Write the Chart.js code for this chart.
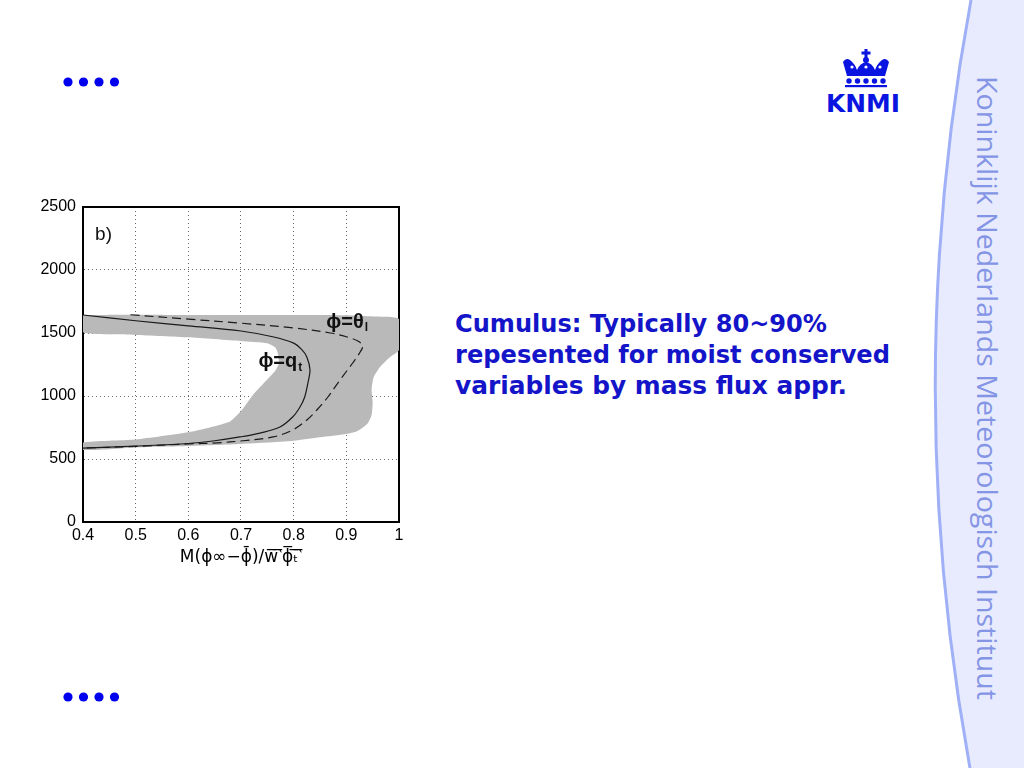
<!DOCTYPE html>
<html>
<head>
<meta charset="utf-8">
<script src="https://cdn.jsdelivr.net/npm/chart.js@4"></script>
<style>
  html, body { margin:0; padding:0; background:#ffffff; }
  #page { position:relative; width:1024px; height:768px; overflow:hidden; background:#ffffff; }
  #deco { position:absolute; left:0; top:0; }
  #wrap { position:absolute; left:20px; top:190px; width:400px; height:385px; }
</style>
</head>
<body>
<div id="page">
<svg id="deco" width="1024" height="768" xmlns="http://www.w3.org/2000/svg">
  <path d="M971 0 Q900 384 970 768 L1024 768 L1024 0 Z" fill="#e8ebfd"/>
  <path d="M971 0 Q900 384 970 768" fill="none" stroke="#9fb0f6" stroke-width="3"/>
  <text transform="translate(977,76) rotate(90)" font-family="Open Sans, DejaVu Sans, sans-serif" font-size="28" fill="#8495e6" textLength="624" lengthAdjust="spacingAndGlyphs">Koninklijk Nederlands Meteorologisch Instituut</text>
  <g fill="#0000ee">
    <circle cx="68" cy="82" r="4.6"/><circle cx="83.5" cy="82" r="4.6"/><circle cx="99" cy="82" r="4.6"/><circle cx="114.5" cy="82" r="4.6"/>
    <circle cx="68" cy="697" r="4.6"/><circle cx="83.5" cy="697" r="4.6"/><circle cx="99" cy="697" r="4.6"/><circle cx="114.5" cy="697" r="4.6"/>
  </g>
  <g fill="#0a14e0">
    <rect x="864.5" y="49" width="3" height="9"/><rect x="861.5" y="51.5" width="9" height="3"/>
    <circle cx="866" cy="60" r="3"/>
    <path d="M843 62 Q846 57 850 60 Q855 64 857 70 Q860 63 866 62 Q872 63 875 70 Q877 64 882 60 Q886 57 889 62 L885 76 L847 76 Z"/>
    <circle cx="849" cy="81" r="2.7"/><circle cx="857.5" cy="81" r="2.7"/><circle cx="866" cy="81" r="2.7"/><circle cx="874.5" cy="81" r="2.7"/><circle cx="883" cy="81" r="2.7"/>
    <rect x="845" y="85" width="42" height="2.2"/>
    <text x="826" y="112" font-family="DejaVu Sans, sans-serif" font-weight="bold" font-size="25" textLength="74" lengthAdjust="spacingAndGlyphs">KNMI</text>
  </g>
  <g fill="#ffffff">
    <circle cx="852" cy="67" r="1.6"/><circle cx="866" cy="67" r="1.6"/><circle cx="880" cy="67" r="1.6"/>
  </g>
  <g fill="#1414c8" font-family="DejaVu Sans, Verdana, sans-serif" font-weight="bold" font-size="25">
    <text x="455" y="332" textLength="372" lengthAdjust="spacingAndGlyphs">Cumulus: Typically 80~90%</text>
    <text x="455" y="363" textLength="435" lengthAdjust="spacingAndGlyphs">repesented for moist conserved</text>
    <text x="455" y="394" textLength="392" lengthAdjust="spacingAndGlyphs">variables by mass flux appr.</text>
  </g>
</svg>
<div id="wrap"><canvas id="c" width="400" height="385"></canvas></div>
</div>
<script>
// ---- data ----
const xTickLabels = ['0.4','0.5','0.6','0.7','0.8','0.9','1'];
const yTickLabels = ['0','500','1000','1500','2000','2500'];

// grey spread band (outline of the shaded region)
const bandX = [0.40,0.50,0.60,0.70,0.80,0.90,0.95,1.00,
               1.00,0.983,0.964,0.952,0.948,0.950,0.948,0.940,0.920,0.900,0.850,0.800,0.750,0.700,0.600,0.500,0.400,
               0.400,0.500,0.600,0.650,0.680,0.700,0.723,0.749,0.765,0.772,0.770,0.765,0.750,0.700,0.600,0.500,0.400,0.400];
const bandY = [1643,1645,1643,1643,1642,1640,1630,1610,
               1366,1310,1230,1150,1050,950,850,780,720,698,672,645,630,619,603,592,572,
               630,655,712,760,800,880,1010,1127,1200,1260,1340,1385,1418,1436,1466,1485,1505,1643];

// phi = q_t (solid)
const qtX = [0.40,0.50,0.60,0.70,0.76,0.80,0.815,0.825,0.831,0.827,0.821,0.812,0.798,0.774,0.736,0.698,0.650,0.600,0.500,0.400];
const qtY = [1643,1597,1557,1516,1470,1420,1370,1310,1206,1103,992,913,833,754,706,675,645,623,603,587];

// phi = theta_l (dashed)
const thX = [0.49,0.60,0.70,0.80,0.87,0.90,0.92,0.931,0.925,0.912,0.888,0.865,0.844,0.825,0.798,0.761,0.704,0.654,0.600,0.500,0.400];
const thY = [1645,1610,1578,1540,1500,1470,1440,1400,1340,1262,1127,992,889,810,730,675,645,628,620,600,587];

// text annotations (data coordinates)
const noteText = ['b)', 'ϕ=θ', 'ϕ=q'];
const noteSub  = ['', 'l', 't'];
const noteX    = [0.423, 0.862, 0.733];
const noteY    = [2278, 1587, 1270];

const xTitle = 'M(ϕ∞−ϕ̄)/w̅‵̅ϕ̅ₜ̅‵̅';

const pts = (xs, ys) => xs.map((x, i) => ({x: x, y: ys[i]}));

const notesPlugin = {
  id: 'notes',
  afterDraw(chart) {
    const {ctx, scales} = chart;
    ctx.save();
    ctx.fillStyle = '#111';
    ctx.textBaseline = 'middle';
    ctx.textAlign = 'left';
    noteText.forEach((t, i) => {
      const px = scales.x.getPixelForValue(noteX[i]);
      const py = scales.y.getPixelForValue(noteY[i]);
      ctx.font = (i === 0 ? '' : 'bold ') + (i === 0 ? '19px' : '20px') + ' "Liberation Sans", Arial, sans-serif';
      ctx.fillText(t, px, py);
      const w = ctx.measureText(t).width;
      if (noteSub[i]) {
        ctx.font = 'bold 12px "Liberation Sans", Arial, sans-serif';
        ctx.fillText(noteSub[i], px + w + 1, py + 6);
      }
    });
    ctx.restore();
  }
};

new Chart(document.getElementById('c'), {
  type: 'scatter',
  data: {
    datasets: [
      { data: pts(qtX, qtY), showLine: true, borderColor: '#1a1a1a', borderWidth: 1.2,
        pointRadius: 0, tension: 0.35, fill: false, order: 1 },
      { data: pts(thX, thY), showLine: true, borderColor: '#1a1a1a', borderWidth: 1.2,
        borderDash: [9, 5], pointRadius: 0, tension: 0.35, fill: false, order: 2 },
      { data: pts(bandX, bandY), showLine: true, borderColor: 'rgba(0,0,0,0)', borderWidth: 0,
        backgroundColor: '#b9b9b9', pointRadius: 0, tension: 0.2, fill: 'shape', order: 3 }
    ]
  },
  options: {
    responsive: false,
    animation: false,
    layout: { padding: { top: 17, right: 21, left: 0, bottom: 0 } },
    plugins: { legend: { display: false }, tooltip: { enabled: false } },
    scales: {
      x: {
        type: 'linear', position: 'bottom', min: 0.4, max: 1, z: 1,
        afterFit: s => { s.height = 53; },
        ticks: { stepSize: 0.1, color: '#000', padding: 4,
                 font: { family: '"Liberation Sans", Arial, sans-serif', size: 16 },
                 callback: (v, i) => xTickLabels[i] },
        grid: { color: '#666', lineWidth: 1, drawTicks: false },
        border: { display: true, color: '#000', width: 2, dash: [1, 3] },
        title: { display: true, text: xTitle, color: '#000', padding: { top: 0, bottom: 7 },
                 font: { family: '"DejaVu Sans", sans-serif', size: 17 } }
      },
      y: {
        type: 'linear', position: 'left', min: 0, max: 2500, z: 1,
        afterFit: s => { s.width = 63; },
        ticks: { stepSize: 500, color: '#000', padding: 7,
                 font: { family: '"Liberation Sans", Arial, sans-serif', size: 16 },
                 callback: (v, i) => yTickLabels[i] },
        grid: { color: '#666', lineWidth: 1, drawTicks: false },
        border: { display: true, color: '#000', width: 2, dash: [1, 3] }
      },
      x2: {
        type: 'linear', position: 'top', min: 0.4, max: 1, z: 1,
        afterFit: s => { s.height = 0; },
        ticks: { display: false }, grid: { display: false, drawTicks: false },
        border: { display: true, color: '#000', width: 2 }
      },
      y2: {
        type: 'linear', position: 'right', min: 0, max: 2500, z: 1,
        afterFit: s => { s.width = 0; },
        ticks: { display: false }, grid: { display: false, drawTicks: false },
        border: { display: true, color: '#000', width: 2 }
      }
    }
  },
  plugins: [notesPlugin]
});
</script>
</body>
</html>
